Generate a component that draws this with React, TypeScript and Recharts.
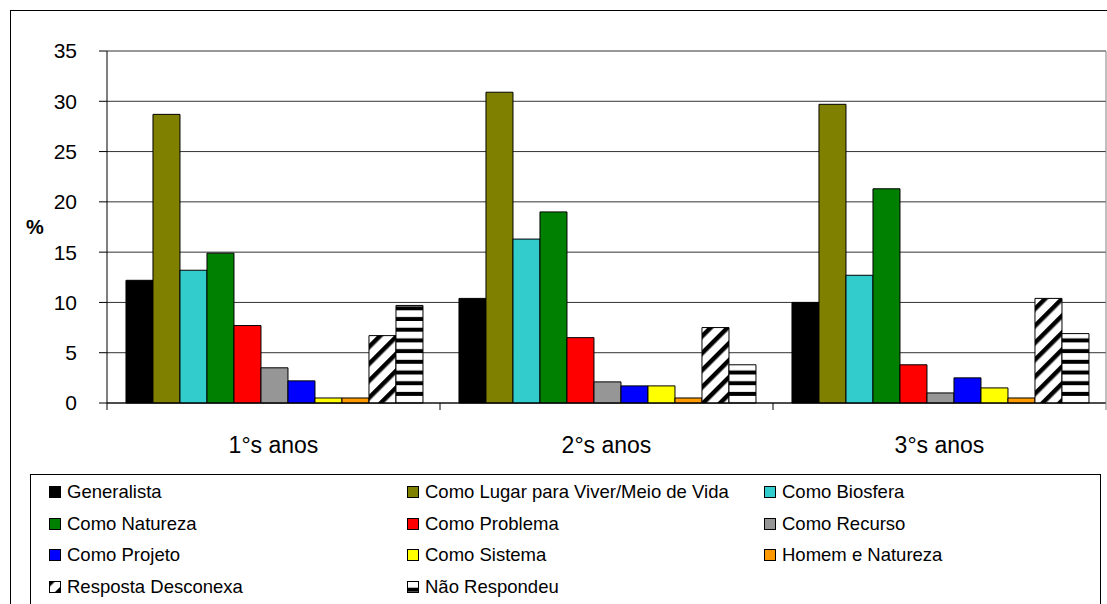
import { BarChart, Bar, XAxis, YAxis, CartesianGrid } from 'recharts'

const CATEGORIES = ['1°s anos', '2°s anos', '3°s anos']

const generalista = [12.2, 10.4, 10.0]
const comoLugar = [28.7, 30.9, 29.7]
const comoBiosfera = [13.2, 16.3, 12.7]
const comoNatureza = [14.9, 19.0, 21.3]
const comoProblema = [7.7, 6.5, 3.8]
const comoRecurso = [3.5, 2.1, 1.0]
const comoProjeto = [2.2, 1.7, 2.5]
const comoSistema = [0.5, 1.7, 1.5]
const homemNatureza = [0.5, 0.5, 0.5]
const respostaDesconexa = [6.7, 7.5, 10.4]
const naoRespondeu = [9.7, 3.8, 6.9]

const Y_TICKS = [0, 5, 10, 15, 20, 25, 30, 35]

const SERIES = [
  { key: 'generalista', name: 'Generalista', fill: '#000000', values: generalista },
  { key: 'lugar', name: 'Como Lugar para Viver/Meio de Vida', fill: '#808000', values: comoLugar },
  { key: 'biosfera', name: 'Como Biosfera', fill: '#33CCCC', values: comoBiosfera },
  { key: 'natureza', name: 'Como Natureza', fill: '#008000', values: comoNatureza },
  { key: 'problema', name: 'Como Problema', fill: '#FF0000', values: comoProblema },
  { key: 'recurso', name: 'Como Recurso', fill: '#969696', values: comoRecurso },
  { key: 'projeto', name: 'Como Projeto', fill: '#0000FF', values: comoProjeto },
  { key: 'sistema', name: 'Como Sistema', fill: '#FFFF00', values: comoSistema },
  { key: 'homem', name: 'Homem e Natureza', fill: '#FF9900', values: homemNatureza },
  { key: 'resposta', name: 'Resposta Desconexa', fill: 'url(#diagStripes)', values: respostaDesconexa },
  { key: 'nao', name: 'Não Respondeu', fill: 'url(#horizStripes)', values: naoRespondeu },
]

const FONT = '"Liberation Sans", Arial, sans-serif'

const chartData = CATEGORIES.map((name, i) => {
  const row: Record<string, string | number> = { name }
  for (const s of SERIES) row[s.key] = s.values[i]
  return row
})

// category label + tick marks on the category boundaries (Excel style)
function CategoryTick(props: any) {
  const { x, y, payload, index } = props
  const half = payload?.offset ?? 166.5
  const last = index === CATEGORIES.length - 1
  return (
    <g>
      <line x1={x - half} y1={y} x2={x - half} y2={y + 7} stroke="#000" />
      {last && <line x1={x + half} y1={y} x2={x + half} y2={y + 7} stroke="#808080" />}
      <text x={x} y={y + 50} textAnchor="middle" fontSize={23} fill="#000" fontFamily={FONT}>
        {payload.value}
      </text>
    </g>
  )
}

function Patterns() {
  return (
    <svg width={0} height={0} style={{ position: 'absolute' }}>
      <defs>
        <pattern id="diagStripes" patternUnits="userSpaceOnUse" width={12} height={12} patternTransform="rotate(45)">
          <rect width={12} height={12} fill="#fff" />
          <rect width={4.5} height={12} fill="#000" />
        </pattern>
        <pattern id="horizStripes" patternUnits="userSpaceOnUse" width={10.7} height={10.7}>
          <rect width={10.7} height={10.7} fill="#fff" />
          <rect y={6.7} width={10.7} height={4} fill="#000" />
        </pattern>
      </defs>
    </svg>
  )
}

function LegendBox() {
  return (
    <div
      style={{
        position: 'absolute',
        left: 30,
        top: 474,
        width: 1071,
        height: 200,
        border: '1px solid #000',
        boxSizing: 'border-box',
        paddingTop: 1,
        paddingLeft: 18,
        display: 'grid',
        gridTemplateColumns: '358px 357px 300px',
        gridAutoRows: '31.7px',
        fontFamily: FONT,
        fontSize: 18.5,
        color: '#000',
      }}
    >
      {SERIES.map((s) => (
        <div key={s.key} style={{ display: 'flex', alignItems: 'center', whiteSpace: 'nowrap' }}>
          <svg width={12} height={12} style={{ marginRight: 6, flex: 'none' }}>
            <rect x={0.5} y={0.5} width={11} height={11} fill={s.fill} stroke="#000" />
          </svg>
          <span>{s.name}</span>
        </div>
      ))}
    </div>
  )
}

export default function App() {
  return (
    <div style={{ position: 'absolute', left: 0, top: 0, width: 1107, height: 604, overflow: 'hidden', background: '#fff' }}>
      <Patterns />
      <div
        style={{
          position: 'absolute',
          left: 10,
          top: 10,
          width: 1120,
          height: 620,
          borderTop: '1px solid #000',
          borderLeft: '1px solid #000',
        }}
      />
      <div style={{ position: 'absolute', left: 0, top: 0 }}>
        <BarChart
          width={1107}
          height={470}
          data={chartData}
          margin={{ top: 51, right: 0, left: 0, bottom: 7 }}
          barCategoryGap="5.7%"
          barGap={0}
        >
          <CartesianGrid vertical={false} stroke="#333" />
          <XAxis
            dataKey="name"
            height={60}
            interval={0}
            tickLine={false}
            tickSize={0}
            tickMargin={0}
            axisLine={{ stroke: '#000' }}
            tick={<CategoryTick />}
          />
          <YAxis
            width={107}
            domain={[0, 35]}
            ticks={Y_TICKS}
            interval={0}
            tickSize={8}
            tickMargin={22}
            axisLine={{ stroke: '#000' }}
            tickLine={{ stroke: '#000' }}
            tick={{ fontSize: 21, fill: '#000', fontFamily: FONT }}
            label={{
              value: '%',
              position: 'insideLeft',
              offset: 26,
              style: { fontSize: 20, fontWeight: 'bold', fill: '#000', fontFamily: FONT },
            }}
          />
          <YAxis
            yAxisId="r"
            orientation="right"
            width={1}
            domain={[0, 35]}
            tick={false}
            tickLine={false}
            axisLine={{ stroke: '#808080' }}
          />
          {SERIES.map((s) => (
            <Bar
              key={s.key}
              dataKey={s.key}
              name={s.name}
              fill={s.fill}
              stroke="#000"
              strokeWidth={1}
              isAnimationActive={false}
            />
          ))}
        </BarChart>
      </div>
      <LegendBox />
    </div>
  )
}
